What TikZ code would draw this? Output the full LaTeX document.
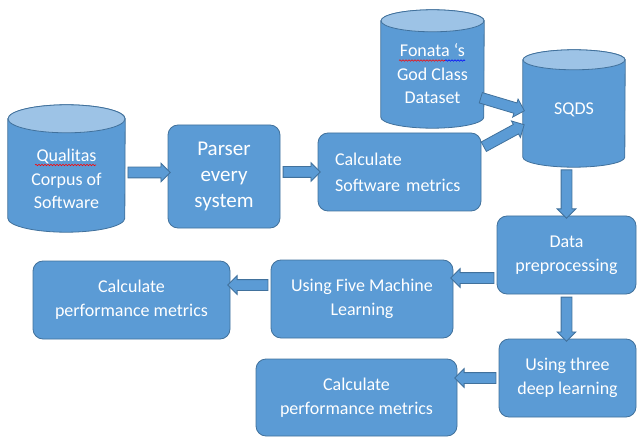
\documentclass[tikz,border=0pt]{standalone}
\usepackage{fontspec}
\setmainfont{Carlito}
\usetikzlibrary{shapes.arrows,calc,backgrounds,decorations.pathmorphing}
\definecolor{mainc}{HTML}{5B9BD5}
\definecolor{bordc}{HTML}{41719C}
\definecolor{topc}{HTML}{9DC3E6}
\tikzset{
  box/.style={rectangle, rounded corners=10pt, draw=bordc, fill=mainc, line width=0.8pt,
    text=white, align=center, font=\fontsize{18}{24}\selectfont, inner sep=0pt},
  cyl/.style={rectangle, text=white, align=center, font=\fontsize{18}{23.5}\selectfont, inner sep=0pt},
  blk/.style={single arrow, draw=bordc, fill=mainc, line width=0.8pt, inner xsep=0pt,
    inner ysep=5pt, single arrow head extend=4pt, single arrow tip angle=90, minimum width=1pt},
  squig/.style={line width=0.6pt, decorate, decoration={snake, amplitude=0.7pt, segment length=3pt}}
}
\newcommand\blkarr[2]{%
  \path let \p1=#1, \p2=#2, \n1={atan2(\y2-\y1,\x2-\x1)}, \n2={veclen(\x2-\x1,\y2-\y1)} in
    node[blk, minimum height=\n2, rotate=\n1] at ({0.5*\x1+0.5*\x2},{0.5*\y1+0.5*\y2}) {};}
% name, half width, end radius, extension of the body below the node
\newcommand\drawcyl[4]{%
  \begin{scope}[on background layer]
    \filldraw[fill=mainc, draw=bordc, line width=0.8pt]
      ([yshift=#3]#1.north west) -- ([yshift={#3-#4}]#1.south west)
      arc[start angle=180, end angle=360, x radius=#2, y radius=#3]
      -- ([yshift=#3]#1.north east)
      arc[start angle=0, end angle=180, x radius=#2, y radius=#3] -- cycle;
    \filldraw[fill=topc, draw=bordc, line width=0.8pt]
      ([yshift=#3]#1.north) ellipse[x radius=#2, y radius=#3];
  \end{scope}}
\begin{document}
\begin{tikzpicture}[x=1pt,y=1pt]
\useasboundingbox (0,0) rectangle (637,437);
% cylinders
\node[cyl, minimum width=117pt, minimum height=92pt] (q) at (66.5,258) {Qualitas\\Corpus of\\Software};
\drawcyl{q}{58.5pt}{14pt}{7pt}
\node[cyl, minimum width=103pt, minimum height=84pt] (f) at (432.5,363) {Fonata \textquoteleft s\\God Class\\Dataset};
\drawcyl{f}{51.5pt}{11pt}{12pt}
\node[cyl, minimum width=102pt, minimum height=97pt] (sq) at (574,318.5) {\raisebox{4pt}[0pt][0pt]{SQDS}};
\drawcyl{sq}{51pt}{10pt}{0pt}
% boxes
\node[box, minimum width=112pt, minimum height=103pt, font=\fontsize{21}{26}\selectfont] (p) at (224,260.5) {Parser\\every\\system};
\node[box, minimum width=163pt, minimum height=78pt, align=left, text width=129pt,
      font=\fontsize{18}{26}\selectfont] (csw) at (399.5,265) {Calculate\\Software metrics};
\node[box, minimum width=139pt, minimum height=78pt] (d) at (566.5,182) {Data\\preprocessing};
\node[box, minimum width=182pt, minimum height=78pt] (ml) at (362,138) {Using Five Machine\\Learning};
\node[box, minimum width=197pt, minimum height=78pt] (cp1) at (131.5,137) {Calculate\\performance metrics};
\node[box, minimum width=137pt, minimum height=78pt] (u) at (567.5,59) {Using three\\deep learning};
\node[box, minimum width=201pt, minimum height=77pt] (cp2) at (356.5,39.5) {Calculate\\performance metrics};
% spell-check squiggles
\draw[squig, red] (35,272) -- (96,272);
\draw[squig, red] (399,376.5) -- (445,376.5);
\draw[squig, blue] (445,376.5) -- (465,376.5);
% arrows
\blkarr{($(q.east)+(0,6.5)$)}{($(q.east -| p.west)+(0,6.5)$)}
\blkarr{(p.east |- csw.west)}{(csw.west)}
\blkarr{($(f.east)+(-6,-23)$)}{($(sq.west)+(-1,8.5)$)}
\blkarr{($(csw.east)+(0,24)$)}{($(sq.west)+(-1,-7.5)$)}
\blkarr{(sq.south -| d.north)}{(d.north)}
\blkarr{($(d.west)+(0,-23)$)}{($(ml.east |- d.west)+(0,-23)$)}
\blkarr{($(ml.west)+(0,14)$)}{($(cp1.east |- ml.west)+(0,14)$)}
\blkarr{(d.south)}{(u.north -| d.south)}
\blkarr{(u.west)}{(cp2.east |- u.west)}
\end{tikzpicture}
\end{document}
